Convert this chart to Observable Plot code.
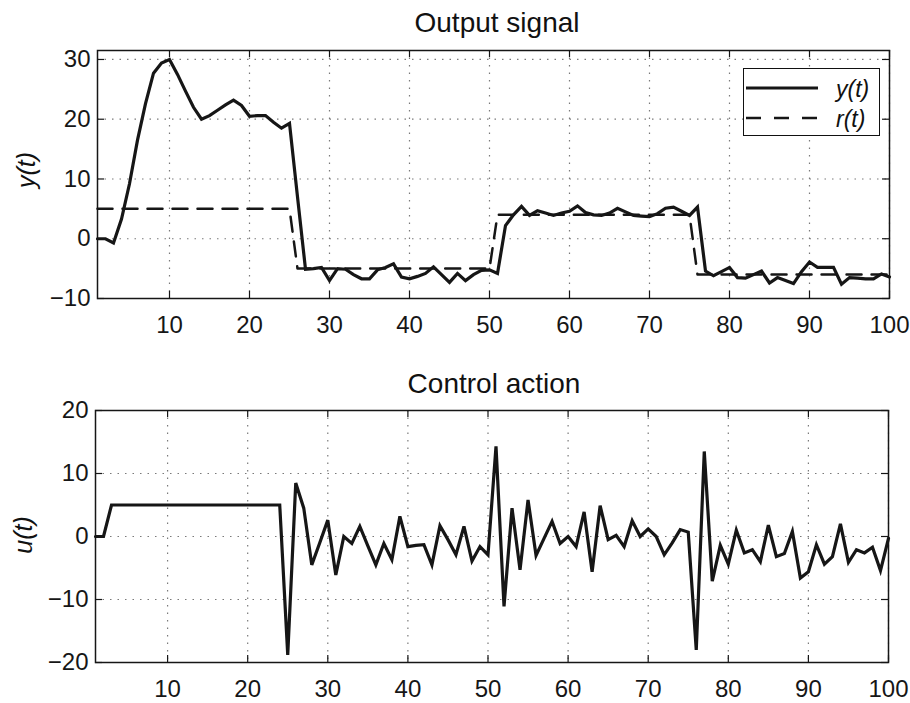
<!DOCTYPE html>
<html>
<head>
<meta charset="utf-8">
<script src="https://cdn.jsdelivr.net/npm/d3@7"></script>
<script src="https://cdn.jsdelivr.net/npm/@observablehq/plot@0.6"></script>
<style>
  body { margin: 0; background: #fff; font-family: "Liberation Sans", Arial, sans-serif; }
  #wrap { position: relative; width: 910px; height: 703px; overflow: hidden; background: #fff; }
  #wrap svg { position: absolute; left: 0; }
  .title { position: absolute; font-size: 28px; line-height: 1; color: #111; white-space: nowrap; transform: translateX(-50%); }
  .ylab { position: absolute; font-size: 25px; font-style: italic; color: #111; white-space: nowrap; transform: translate(-50%, -50%) rotate(-90deg); }
  .legend { position: absolute; left: 743px; top: 68px; width: 135px; height: 66px; border: 1.5px solid #111; background: #fff; }
  .legend .row { position: absolute; left: 0; height: 30px; width: 135px; }
  .legend svg { position: absolute; left: 12px; top: 0; }
  .legend span { position: absolute; left: 92px; top: 2px; font-size: 23px; font-style: italic; color: #111; }
</style>
</head>
<body>
<div id="wrap"></div>
<script>
// sample index t = 1..100
const t = d3.range(1, 101);

// Output signal y(t)
const yOut = [
  0, 0, -0.7, 3.3, 9.2, 16.5, 22.6, 27.7, 29.4, 30,
  27.5, 24.7, 22, 20, 20.6, 21.5, 22.4, 23.2, 22.3, 20.5,
  20.6, 20.6, 19.5, 18.5, 19.3, 7, -5.1, -5, -4.8, -7,
  -5, -5.1, -6, -6.7, -6.7, -5.2, -4.8, -4.2, -6.4, -6.7,
  -6.3, -5.8, -4.7, -6, -7.3, -5.8, -7, -6, -5.3, -5.2,
  -5.8, 2.2, 4.0, 5.4, 3.9, 4.7, 4.3, 3.9, 4.3, 4.6,
  5.5, 4.4, 4.0, 3.9, 4.3, 5.1, 4.5, 3.9, 3.8, 3.7,
  4.2, 5.1, 5.3, 4.6, 3.9, 5.3, -5.4, -6.2, -5.5, -4.8,
  -6.5, -6.6, -6, -5.4, -7.4, -6.5, -7, -7.5, -5.5, -3.9,
  -4.8, -4.8, -4.8, -7.6, -6.5, -6.6, -6.7, -6.7, -5.9, -6.4
];

// Reference r(t): levels per segment
const refLevels = [5, -5, 4, -6];
const refStarts = [1, 26, 51, 76];

// Control action u(t)
const uCtl = [
  0, 0, 5, 5, 5, 5, 5, 5, 5, 5,
  5, 5, 5, 5, 5, 5, 5, 5, 5, 5,
  5, 5, 5, 5, -18.8, 8.5, 4.5, -4.5, -1, 2.6,
  -6.1, 0, -1.1, 1.6, -1.5, -4.5, -1.1, -3.7, 3.2, -1.6,
  -1.4, -1.3, -4.5, 1.7, -0.5, -2.9, 1.6, -3.9, -1.6, -2.9,
  14.3, -11.1, 4.5, -5.3, 5.8, -3.0, -0.3, 2.4, -1.1, 0,
  -1.6, 3.9, -5.6, 4.9, -0.5, 0.2, -1.6, 2.5, 0, 1.2,
  0, -2.9, -1, 1.1, 0.7, -18, 13.5, -7.1, -1.4, -4.4,
  1.0, -2.6, -2.1, -4.0, 1.8, -3.2, -2.7, 0.8, -6.6, -5.6,
  -1.3, -4.4, -3.2, 2.0, -4.1, -2.1, -2.6, -1.7, -5.4, -0.3
];

const xTicks = [10, 20, 30, 40, 50, 60, 70, 80, 90, 100];
const yTicksTop = [-10, 0, 10, 20, 30];
const yTicksBottom = [-20, -10, 0, 10, 20];
const titles = ["Output signal", "Control action"];
const yLabels = ["y(t)", "u(t)"];
const legendLabels = ["y(t)", "r(t)"];

function refAt(i) {
  let lv = refLevels[0];
  for (let k = 0; k < refStarts.length; k++) if (i >= refStarts[k]) lv = refLevels[k];
  return lv;
}

const topData = t.map((ti, i) => ({t: ti, y: yOut[i], r: refAt(ti)}));
const botData = t.map((ti, i) => ({t: ti, u: uCtl[i]}));

const fmt = d => (d < 0 ? "\u2212" + Math.abs(d) : String(d));
const ink = "#161616";

function panel({data, yKey, yDomain, yTicks, height, mt, mb, ml, mr, extra}) {
  const H = height - mt - mb;
  const W = 910 - ml - mr;
  const tick = 7;
  return Plot.plot({
    width: 910, height,
    marginTop: mt, marginBottom: mb, marginLeft: ml, marginRight: mr,
    x: {domain: [1, 100]},
    y: {domain: yDomain},
    style: {fontFamily: "Liberation Sans, Arial, sans-serif", fontSize: "24px", color: ink, background: "white", overflow: "visible"},
    marks: [
      Plot.gridX(xTicks, {stroke: "#7a7a7a", strokeOpacity: 1, strokeWidth: 1.2, strokeDasharray: "1.5,6"}),
      Plot.gridY(yTicks, {stroke: "#7a7a7a", strokeOpacity: 1, strokeWidth: 1.2, strokeDasharray: "1.5,6"}),
      ...(extra || []),
      Plot.line(data, {x: "t", y: yKey, stroke: ink, strokeWidth: 3.2, strokeLinejoin: "miter", strokeMiterlimit: 4}),
      Plot.tickX(xTicks, {x: d => d, stroke: ink, strokeWidth: 1.2, insetTop: H - tick}),
      Plot.tickX(xTicks, {x: d => d, stroke: ink, strokeWidth: 1.2, insetBottom: H - tick}),
      Plot.tickY(yTicks, {y: d => d, stroke: ink, strokeWidth: 1.2, insetRight: W - tick}),
      Plot.tickY(yTicks, {y: d => d, stroke: ink, strokeWidth: 1.2, insetLeft: W - tick}),
      Plot.axisX(xTicks, {anchor: "bottom", tickSize: 0, tickPadding: 17, label: null, fontSize: 24, fill: ink}),
      Plot.axisY(yTicks, {anchor: "left", tickSize: 0, tickPadding: 7, label: null, tickFormat: fmt, fontSize: 24, fill: ink}),
      Plot.frame({stroke: ink, strokeWidth: 1.5})
    ]
  });
}

const wrap = document.getElementById("wrap");

const p1 = panel({
  data: topData, yKey: "y", yDomain: [-10, 31.5], yTicks: yTicksTop,
  height: 345, mt: 50, mb: 47, ml: 97, mr: 21,
  extra: [Plot.line(topData, {x: "t", y: "r", stroke: ink, strokeWidth: 2.5, strokeDasharray: "15,10"})]
});
p1.style.top = "0px";
wrap.appendChild(p1);

const p2 = panel({
  data: botData, yKey: "u", yDomain: [-20, 20], yTicks: yTicksBottom,
  height: 358, mt: 65, mb: 41, ml: 95, mr: 22
});
p2.style.top = "345px";
wrap.appendChild(p2);

// titles
function addDiv(cls, text, left, top) {
  const d = document.createElement("div");
  d.className = cls; d.textContent = text;
  d.style.left = left + "px"; d.style.top = top + "px";
  wrap.appendChild(d);
  return d;
}
addDiv("title", titles[0], 497, 9);
addDiv("title", titles[1], 494, 370);
addDiv("ylab", yLabels[0], 26, 170);
addDiv("ylab", yLabels[1], 23, 535);

// legend
const leg = document.createElement("div");
leg.className = "legend";
legendLabels.forEach((lab, i) => {
  const row = document.createElement("div");
  row.className = "row";
  row.style.top = (5 + i * 30) + "px";
  const svg = d3.create("svg").attr("width", 76).attr("height", 30);
  svg.append("line").attr("x1", 2).attr("x2", 74).attr("y1", 14).attr("y2", 14)
    .attr("stroke", ink).attr("stroke-width", i === 0 ? 3 : 2.5)
    .attr("stroke-dasharray", i === 0 ? null : "15,13");
  row.appendChild(svg.node());
  const sp = document.createElement("span");
  sp.textContent = lab;
  row.appendChild(sp);
  leg.appendChild(row);
});
wrap.appendChild(leg);
</script>
</body>
</html>
